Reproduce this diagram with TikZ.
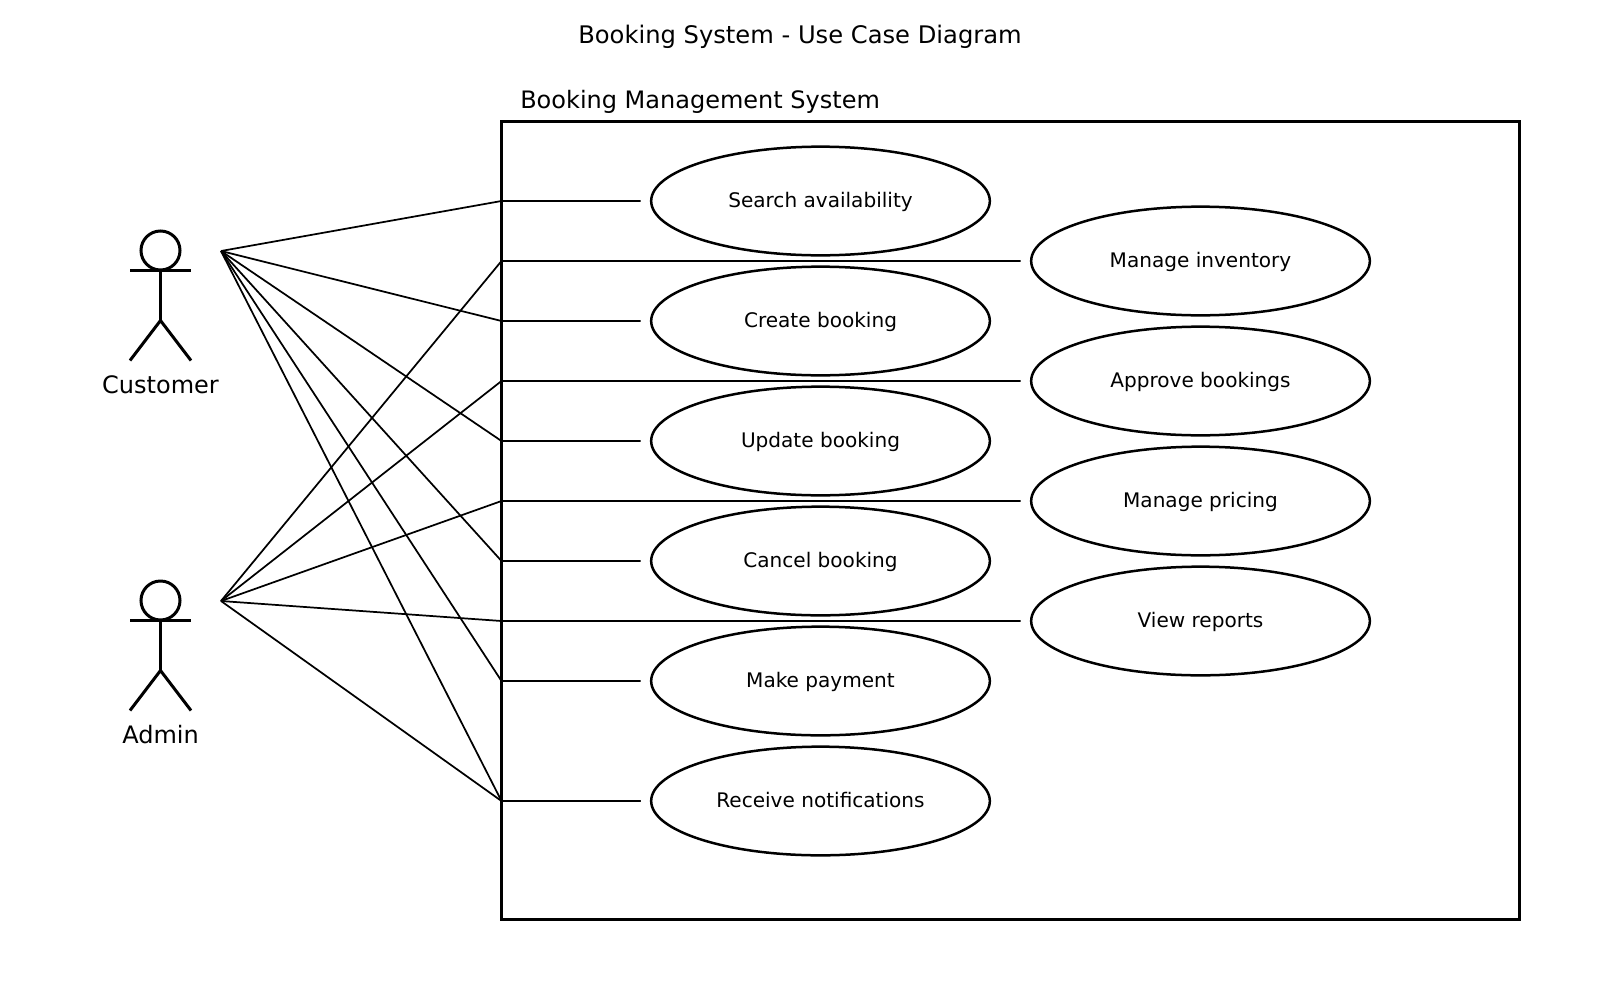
\documentclass[tikz,border=0pt]{standalone}
\usepackage{fontspec}
\setmainfont{DejaVu Sans}
\usetikzlibrary{shapes.geometric}
\tikzset{
  x=0.75pt,y=-0.75pt,
  usecase/.style={ellipse,draw,line width=1.875pt,minimum width=254pt,minimum height=81.5pt,inner sep=0pt,text height=9.5pt,text depth=0pt,font=\fontsize{15.05}{18}\selectfont},
  conn/.style={line width=1.3pt,line join=miter},
  limb/.style={line width=2.25pt},
  actorname/.style={font=\fontsize{18}{22}\selectfont,inner sep=0pt},
  heading/.style={font=\fontsize{18.15}{22}\selectfont,inner sep=0pt},
  subheading/.style={font=\fontsize{18}{22}\selectfont,inner sep=0pt}
}
\begin{document}
\begin{tikzpicture}
\useasboundingbox (0,0) rectangle (1600,1000);
\fill[white] (0,0) rectangle (1600,1000);
\node[heading] (title) at (800,37) {Booking System - Use Case Diagram};
\node[subheading,anchor=west] (sysname) at (520,102) {Booking Management System};
\draw[line width=2.25pt] (501.5,121.5) rectangle (1519.5,919.3);
% actors
\foreach \n/\y/\lab in {cust/250.5/Customer,adm/600.5/Admin}{
  \draw[limb] (160.5,\y) circle (19.5);
  \draw[limb] (130,\y+20) -- (191,\y+20);
  \draw[limb] (160.5,\y+20) -- (160.5,\y+70);
  \draw[limb] (130,\y+110) -- (160.5,\y+70) -- (191,\y+110);
  \node[actorname] (\n name) at (160.5,\y+134.5) {\lab};
}
\coordinate (cust) at (221,251);
\coordinate (adm) at (221,601);
% use cases
\node[usecase] (search) at (820.5,201) {Search availability};
\node[usecase] (create) at (820.5,321) {Create booking};
\node[usecase] (update) at (820.5,441) {Update booking};
\node[usecase] (cancel) at (820.5,561) {Cancel booking};
\node[usecase] (pay) at (820.5,681) {Make payment};
\node[usecase] (notify) at (820.5,801) {Receive notifications};
\node[usecase] (inv) at (1200.5,261) {Manage inventory};
\node[usecase] (appr) at (1200.5,381) {Approve bookings};
\node[usecase] (price) at (1200.5,501) {Manage pricing};
\node[usecase] (rep) at (1200.5,621) {View reports};
% connectors
\foreach \u in {search,create,update,cancel,pay,notify}
  \draw[conn,shorten >=7pt] (cust) -- (501.5,0 |- \u.west) -- (\u.west);
\foreach \u in {inv,appr,price,rep,notify}
  \draw[conn,shorten >=7pt] (adm) -- (501.5,0 |- \u.west) -- (\u.west);
\end{tikzpicture}
\end{document}
